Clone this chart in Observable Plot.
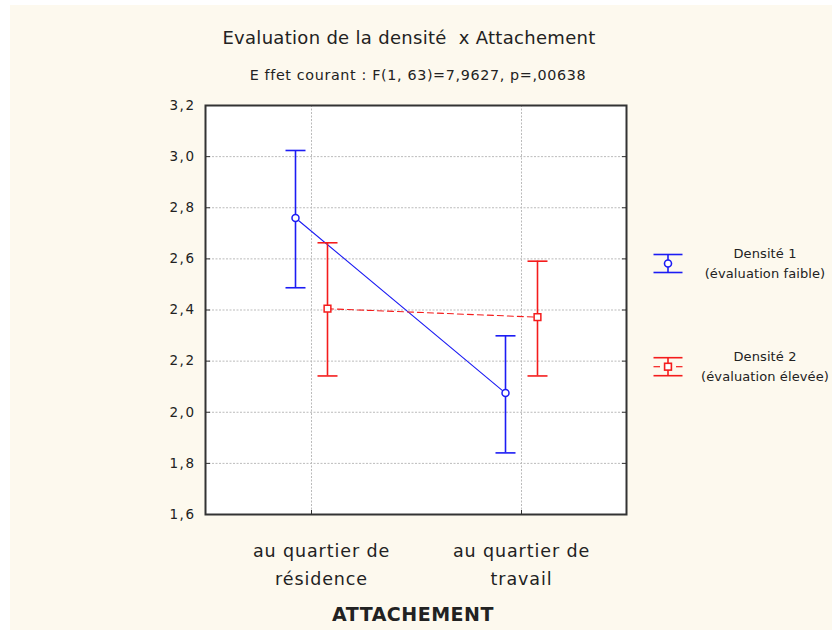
<!DOCTYPE html>
<html><head><meta charset="utf-8">
<script src="https://cdn.jsdelivr.net/npm/d3@7"></script>
<script src="https://cdn.jsdelivr.net/npm/@observablehq/plot@0.6"></script>
<style>
html,body{margin:0;padding:0;background:#fff;}
#wrap{position:relative;width:832px;height:630px;overflow:hidden;background:#fff;}
#bg{position:absolute;left:10px;top:5px;right:0;bottom:0;background:#fdf9ee;}
#chart{position:absolute;left:0;top:0;}
#overlay{position:absolute;left:0;top:0;pointer-events:none;}
#overlay text{font-family:"DejaVu Sans",sans-serif;fill:#222;white-space:pre;}
g[aria-label="y-axis tick label"] text{letter-spacing:1.5px;}
g[aria-label="x-axis tick label"] text{letter-spacing:0.9px;}
</style></head>
<body>
<div id="wrap">
  <div id="bg"></div>
  <div id="chart"></div>
  <svg id="overlay" width="832" height="630">
    <text x="409" y="43.5" text-anchor="middle" font-size="18" style="letter-spacing:0.3px">Evaluation de la densité  x Attachement</text>
    <text x="418" y="80" text-anchor="middle" font-size="14.3" style="letter-spacing:0.65px">E ffet courant : F(1, 63)=7,9627, p=,00638</text>
    <text x="413" y="621" text-anchor="middle" font-size="19" font-weight="bold" style="letter-spacing:0.5px">ATTACHEMENT</text>
    <g id="legend"></g>
  </svg>
</div>
<script>
// ---- data ----
const categories = ["au quartier de\nrésidence", "au quartier de\ntravail"];
const seriesNames = ["Densité 1\n(évaluation faible)", "Densité 2\n(évaluation élevée)"];
const seriesColors = ["#1c1cf4", "#f41c1c"];
const mean1 = [2.760, 2.075];
const low1  = [2.487, 1.841];
const high1 = [3.024, 2.299];
const mean2 = [2.405, 2.372];
const low2  = [2.142, 2.142];
const high2 = [2.663, 2.591];
const yTicks = [1.6, 1.8, 2.0, 2.2, 2.4, 2.6, 2.8, 3.0, 3.2];

const rows = (m, lo, hi) => categories.map((c, i) => ({cat: c, mean: m[i], low: lo[i], high: hi[i]}));
const d1 = rows(mean1, low1, high1);
const d2 = rows(mean2, low2, high2);

const cap = {draw(ctx, size) { const w = Math.sqrt(size / Math.PI); ctx.moveTo(-w, 0); ctx.lineTo(w, 0); }};
const fmt = d => d.toFixed(1).replace(".", ",");

function seriesMarks(data, color, dx, symbol, r, dash) {
  return [
    Plot.line(data, {x: "cat", y: "mean", dx, stroke: color, strokeWidth: 1.1, strokeDasharray: dash}),
    Plot.ruleX(data, {x: "cat", y1: "low", y2: "high", dx, stroke: color, strokeWidth: 1.6}),
    Plot.dot(data, {x: "cat", y: "high", dx, symbol: cap, r: 10, stroke: color, strokeWidth: 1.6}),
    Plot.dot(data, {x: "cat", y: "low", dx, symbol: cap, r: 10, stroke: color, strokeWidth: 1.6}),
    Plot.dot(data, {x: "cat", y: "mean", dx, symbol, r, fill: "white", stroke: color, strokeWidth: 1.5})
  ];
}

const chart = Plot.plot({
  width: 832, height: 630,
  marginTop: 105, marginBottom: 116, marginLeft: 205, marginRight: 206,
  style: {background: "transparent", fontFamily: "DejaVu Sans, sans-serif", color: "#222", overflow: "visible"},
  x: {type: "point", domain: categories, padding: 0.5, label: null},
  y: {domain: [1.6, 3.2], label: null},
  marks: [
    Plot.frame({fill: "white"}),
    Plot.ruleY(yTicks, {stroke: "#bbbbbb", strokeDasharray: "2,1.5"}),
    Plot.ruleX(categories, {stroke: "#bbbbbb", strokeDasharray: "2,1.5"}),
    Plot.axisY({ticks: yTicks, tickFormat: fmt, tickSize: -5, tickPadding: 15, fontSize: 13.5, stroke: "#333"}),
    Plot.axisY({anchor: "right", ticks: yTicks, tickFormat: () => "", tickSize: -5, label: null, stroke: "#333"}),
    Plot.axisX({ticks: categories, tickFormat: () => "", tickSize: -4, stroke: "#333"}),
    Plot.axisX([categories[0]], {tickSize: 0, tickPadding: 23, dx: 10, fontSize: 17.5, lineHeight: 1.6}),
    Plot.axisX([categories[1]], {tickSize: 0, tickPadding: 23, dx: 0, fontSize: 17.5, lineHeight: 1.6}),
    ...seriesMarks(d1, seriesColors[0], -16, "circle", 3.5, null),
    ...seriesMarks(d2, seriesColors[1], 16, "square", 3.8, "6,4"),
    Plot.frame({stroke: "#333", strokeWidth: 2})
  ]
});
document.getElementById("chart").appendChild(chart);

// ---- legend ----
const ns = "http://www.w3.org/2000/svg";
const lg = document.getElementById("legend");
function el(tag, attrs, parent) {
  const e = document.createElementNS(ns, tag);
  for (const k in attrs) e.setAttribute(k, attrs[k]);
  (parent || lg).appendChild(e);
  return e;
}
const legendY = [263.5, 366.7];
seriesNames.forEach((name, i) => {
  const cy = legendY[i], col = seriesColors[i], cx = 668;
  const g = el("g", {stroke: col, "stroke-width": 1.6, fill: "none"});
  el("line", {x1: cx - 14.5, x2: cx + 14.5, y1: cy - 9, y2: cy - 9}, g);
  el("line", {x1: cx - 14.5, x2: cx + 14.5, y1: cy + 9, y2: cy + 9}, g);
  el("line", {x1: cx, x2: cx, y1: cy - 9, y2: cy + 9}, g);
  if (i === 0) {
    el("circle", {cx, cy, r: 3.5, fill: "white"}, g);
  } else {
    el("line", {x1: cx - 14.5, x2: cx - 8, y1: cy, y2: cy, "stroke-width": 1.2}, g);
    el("line", {x1: cx + 8, x2: cx + 14.5, y1: cy, y2: cy, "stroke-width": 1.2}, g);
    el("rect", {x: cx - 3.4, y: cy - 3.4, width: 6.8, height: 6.8, fill: "white"}, g);
  }
  const lines = name.split("\n");
  lines.forEach((t, j) => {
    const tx = el("text", {x: 765, y: cy - 6 + j * 20, "text-anchor": "middle", "font-size": 13, style: "letter-spacing:0.1px"});
    tx.textContent = t;
  });
});
</script>
</body></html>
